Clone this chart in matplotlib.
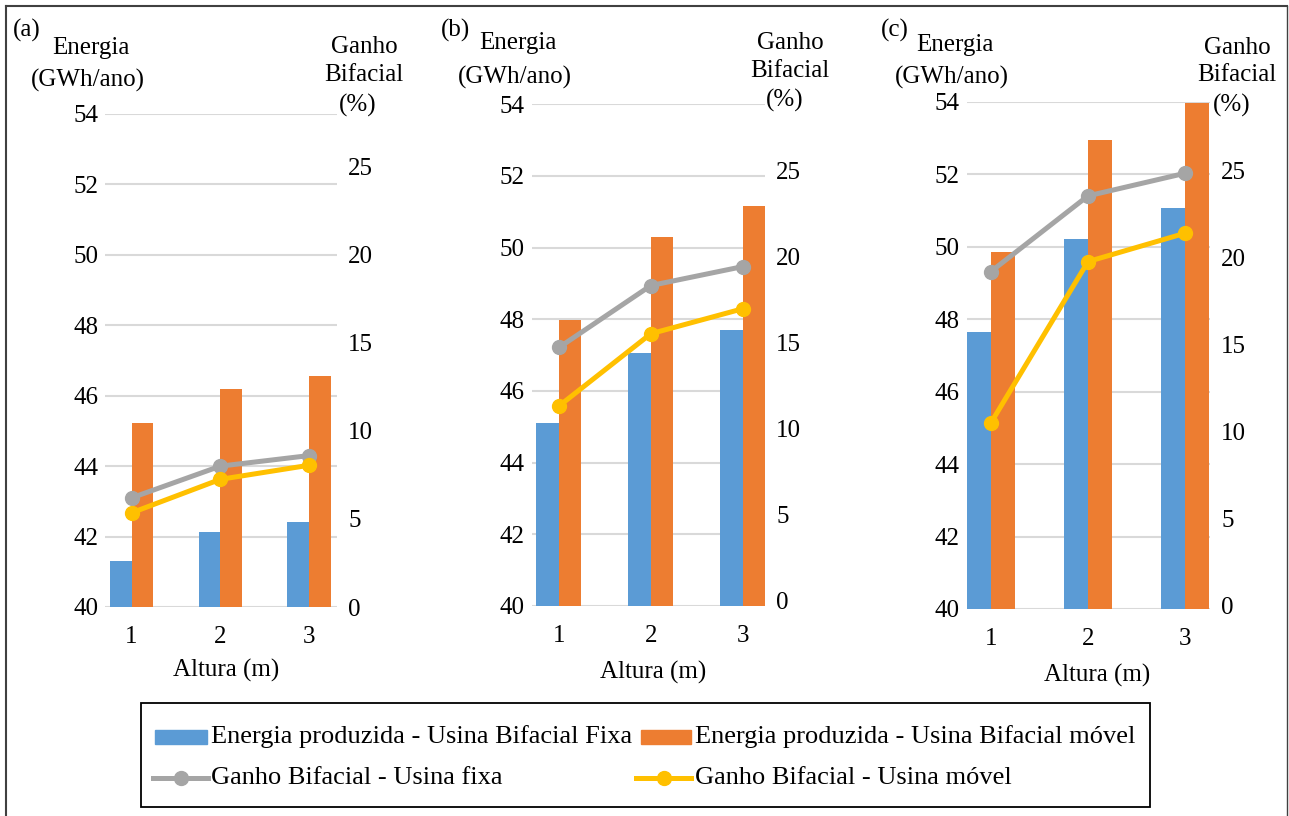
import matplotlib
matplotlib.use("Agg")
import matplotlib.pyplot as plt
from matplotlib.patches import Rectangle
from matplotlib.lines import Line2D

# ---------------- data ----------------
alturas = [0, 1, 2]
altura_labels = ["1", "2", "3"]
panel_tags = ["(a)", "(b)", "(c)"]

energia_fixa_a = [41.31, 42.14, 42.41]
energia_movel_a = [45.22, 46.18, 46.56]
ganho_fixa_a = [6.2, 8.0, 8.6]
ganho_movel_a = [5.35, 7.25, 8.05]

energia_fixa_b = [45.11, 47.06, 47.69]
energia_movel_b = [47.99, 50.29, 51.15]
ganho_fixa_b = [14.7, 18.3, 19.4]
ganho_movel_b = [11.3, 15.5, 16.95]

energia_fixa_c = [47.64, 50.23, 51.06]
energia_movel_c = [49.86, 52.94, 53.97]
ganho_fixa_c = [19.2, 23.55, 24.85]
ganho_movel_c = [10.5, 19.77, 21.4]

left_ticks = [40, 42, 44, 46, 48, 50, 52, 54]
right_ticks = [0, 5, 10, 15, 20, 25]

legend_labels = ["Energia produzida - Usina Bifacial Fixa",
                 "Energia produzida - Usina Bifacial móvel",
                 "Ganho Bifacial - Usina fixa",
                 "Ganho Bifacial - Usina móvel"]

# ---------------- style ----------------
W, H = 1289, 816
C_BLUE, C_ORANGE, C_GRAY, C_YELLOW = "#5B9BD5", "#ED7D31", "#A5A5A5", "#FFC000"
GRID = "#D9D9D9"
FS = 18
plt.rcParams["font.family"] = ["Liberation Serif", "DejaVu Serif"]

fig = plt.figure(figsize=(W / 100, H / 100), dpi=100)


def px_axes(x0, x1, ytop, ybot):
    return fig.add_axes([x0 / W, 1 - ybot / H, (x1 - x0) / W, (ybot - ytop) / H])


def fx(x):
    return x / W


def fy(y):
    return 1 - y / H


panels = [
    dict(box=(105, 337, 114, 607), xlim=(-0.30, 2.316), rlim=(0, 28.0),
         fixa=energia_fixa_a, movel=energia_movel_a, gf=ganho_fixa_a, gm=ganho_movel_a,
         tag=(27, 30), en=(91, 48), gwh=(88, 80), gan=(364, 47), bif=(364, 75), pct=(358, 105),
         xl=(226, 670)),
    dict(box=(531.7, 765, 104.3, 606), xlim=(-0.297, 2.243), rlim=(-0.32, 28.83),
         fixa=energia_fixa_b, movel=energia_movel_b, gf=ganho_fixa_b, gm=ganho_movel_b,
         tag=(456, 30), en=(518, 43), gwh=(515, 77), gan=(790, 43), bif=(790, 71), pct=(785, 100),
         xl=(653, 672)),
    dict(box=(966.7, 1210, 102, 609), xlim=(-0.25, 2.258), rlim=(-0.21, 28.95),
         fixa=energia_fixa_c, movel=energia_movel_c, gf=ganho_fixa_c, gm=ganho_movel_c,
         tag=(895, 30), en=(955, 45), gwh=(952, 77), gan=(1237, 48), bif=(1237, 75), pct=(1232, 105),
         xl=(1097, 675)),
]

bw = 0.245
for i, p in enumerate(panels):
    ax = px_axes(*p["box"])
    ax.set_ylim(40, 54)
    ax.set_xlim(*p["xlim"])
    for t in left_ticks:
        ax.axhline(t, color=GRID, lw=1.5, zorder=0)
    xs = alturas
    ax.bar([x - bw / 2 for x in xs], p["fixa"], bottom=0, width=bw, color=C_BLUE, zorder=2)
    ax.bar([x + bw / 2 for x in xs], p["movel"], bottom=0, width=bw, color=C_ORANGE, zorder=2)
    ax.set_yticks(left_ticks)
    ax.set_yticklabels([str(t) for t in left_ticks], fontsize=FS)
    ax.set_xticks(xs)
    ax.set_xticklabels(altura_labels, fontsize=FS)
    ax.tick_params(axis="y", length=0, pad=5)
    ax.tick_params(axis="x", length=0, pad=14)
    for s in ax.spines.values():
        s.set_visible(False)

    ax2 = ax.twinx()
    ax2.set_ylim(*p["rlim"])
    ax2.plot(xs, p["gf"], color=C_GRAY, lw=3.6, marker="o", ms=10, zorder=3, clip_on=False)
    ax2.plot(xs, p["gm"], color=C_YELLOW, lw=3.6, marker="o", ms=10, zorder=4, clip_on=False)
    ax2.set_yticks(right_ticks)
    ax2.set_yticklabels([str(t) for t in right_ticks], fontsize=FS)
    ax2.tick_params(axis="y", length=0, pad=8)
    for s in ax2.spines.values():
        s.set_visible(False)

    fig.text(fx(p["tag"][0]), fy(p["tag"][1]), panel_tags[i], fontsize=FS, ha="center", va="center")
    fig.text(fx(p["en"][0]), fy(p["en"][1]), "Energia", fontsize=FS, ha="center", va="center")
    fig.text(fx(p["gwh"][0]), fy(p["gwh"][1]), "(GWh/ano)", fontsize=FS, ha="center", va="center")
    fig.text(fx(p["gan"][0]), fy(p["gan"][1]), "Ganho", fontsize=FS, ha="center", va="center")
    fig.text(fx(p["bif"][0]), fy(p["bif"][1]), "Bifacial", fontsize=FS, ha="center", va="center")
    fig.text(fx(p["pct"][0]), fy(p["pct"][1]), "(%)", fontsize=FS, ha="center", va="center")
    fig.text(fx(p["xl"][0]), fy(p["xl"][1]), "Altura (m)", fontsize=FS, ha="center", va="center")

# ---------------- legend (manual) ----------------
fig.patches.append(Rectangle((fx(141), fy(807)), (1150 - 141) / W, (807 - 703) / H,
                             transform=fig.transFigure, fill=False, edgecolor="black", lw=1.3))
row1, row2 = 737, 778
fig.patches.append(Rectangle((fx(155), fy(row1 + 7)), 52 / W, 14 / H,
                             transform=fig.transFigure, color=C_BLUE))
fig.patches.append(Rectangle((fx(641), fy(row1 + 7)), 50 / W, 14 / H,
                             transform=fig.transFigure, color=C_ORANGE))
for (x0, x1, c) in [(153, 208, C_GRAY), (636, 691, C_YELLOW)]:
    fig.lines.append(Line2D([fx(x0), fx(x1)], [fy(row2), fy(row2)], transform=fig.transFigure,
                            color=c, lw=3.6))
    fig.lines.append(Line2D([fx((x0 + x1) / 2)], [fy(row2)], transform=fig.transFigure,
                            color=c, marker="o", ms=10))
LFS = 19
fig.text(fx(211), fy(row1), legend_labels[0], fontsize=LFS, ha="left", va="center")
fig.text(fx(695), fy(row1), legend_labels[1], fontsize=LFS, ha="left", va="center")
fig.text(fx(211), fy(row2), legend_labels[2], fontsize=LFS, ha="left", va="center")
fig.text(fx(695), fy(row2), legend_labels[3], fontsize=LFS, ha="left", va="center")

# ---------------- outer frame ----------------
fig.lines.append(Line2D([fx(6), fx(1287)], [fy(6), fy(6)], transform=fig.transFigure, color="#404040", lw=1.5))
fig.lines.append(Line2D([fx(6), fx(6)], [fy(6), 0], transform=fig.transFigure, color="#404040", lw=1.5))
fig.lines.append(Line2D([fx(1287), fx(1287)], [fy(6), 0], transform=fig.transFigure, color="#404040", lw=1.0))

fig.savefig("out.png", dpi=100)
